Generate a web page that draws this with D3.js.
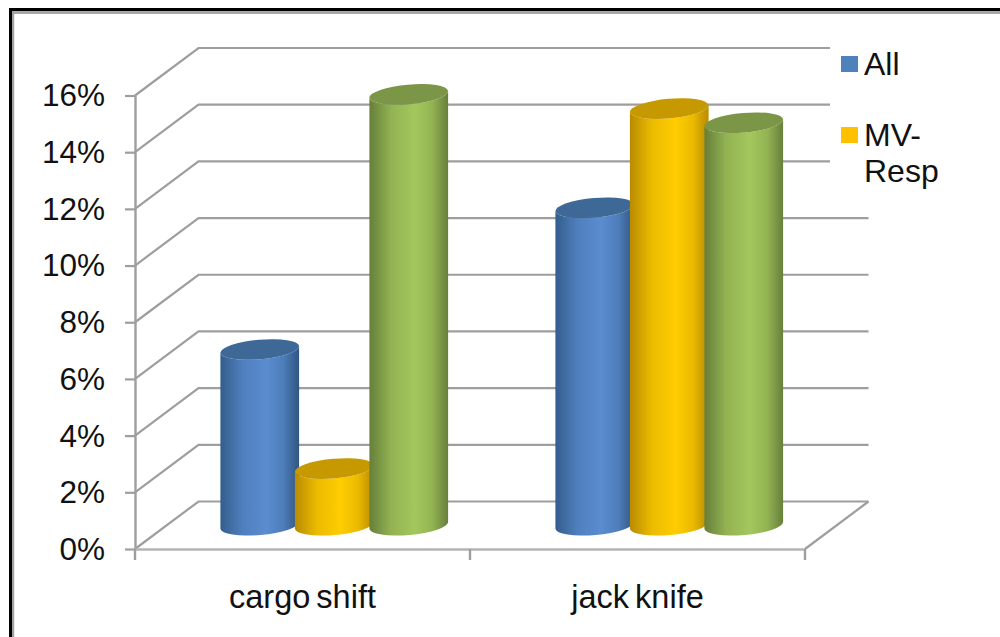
<!DOCTYPE html>
<html>
<head>
<meta charset="utf-8">
<title>Cargo shift and jack knife rates</title>
<script src="https://cdn.jsdelivr.net/npm/d3@7"></script>
<style>
  html, body { margin: 0; padding: 0; background: #fff; }
  svg { display: block; }
  text { font-family: "Liberation Sans", Arial, sans-serif; fill: #111; }
</style>
</head>
<body>
<svg id="chart" width="1000" height="637"></svg>
<script>
// Chart values
const categories = ["cargo shift", "jack knife"];
const seriesAll = [6.2, 11.2];
const seriesMvResp = [2.0, 14.7];
const seriesThird = [15.2, 14.2];
const legendLabels = [["All"], ["MV-", "Resp"]];
const yTicks = [0, 2, 4, 6, 8, 10, 12, 14, 16];

// Cylinder shading: edge, highlight, far edge, lid
const palettes = [
  { edge: "#335d8c", mid: "#5a8cd0", far: "#2f5681", lid: "#3e6896", swatch: "#4f81bd" },
  { edge: "#b98b00", mid: "#ffcd00", far: "#b88a00", lid: "#c79900", swatch: "#ffc000" },
  { edge: "#667f3a", mid: "#a4c75d", far: "#66803a", lid: "#7c9647", swatch: "#9bbb59" }
];
const seriesValues = [seriesAll, seriesMvResp, seriesThird];

const svg = d3.select("#chart");
const defs = svg.append("defs");

// Plot geometry: front plane plus the oblique offset of the back wall
const front = { left: 135, right: 805, top: 95.5, bottom: 549 };
const depth = { x: 63.5, y: 47.5 };
const legendEdge = 830;
const gridColor = "#9e9e9e";

const y = d3.scaleLinear().domain([0, 16]).range([front.bottom, front.top]);
const x = d3.scaleBand().domain(categories).range([front.left, front.right]);
const groupSpan = 223.5;
const inner = d3.scaleBand().domain(d3.range(3)).range([-groupSpan / 2, groupSpan / 2]);

// Outer frame with its grey inner shadow
const frame = svg.append("g");
frame.append("rect").attr("x", 11).attr("y", 11).attr("width", 989).attr("height", 3).attr("fill", "#a8a8a8");
frame.append("rect").attr("x", 11).attr("y", 11).attr("width", 3.2).attr("height", 626).attr("fill", "#a0a0a0");
frame.append("rect").attr("x", 9).attr("y", 8).attr("width", 991).attr("height", 3).attr("fill", "#000");
frame.append("rect").attr("x", 9).attr("y", 8).attr("width", 3).attr("height", 629).attr("fill", "#000");

// Back wall gridlines and their diagonals along the side wall
const grid = svg.append("g").attr("fill", "none").attr("stroke", gridColor).attr("stroke-width", 2.2);
grid.selectAll("path.grid").data(yTicks).join("path")
  .attr("class", "grid")
  .attr("d", t => {
    const yf = y(t), yb = yf - depth.y;
    const end = t >= 12 ? legendEdge : front.right + depth.x;
    return `M${front.left},${yf}L${front.left + depth.x},${yb}L${end},${yb}`;
  });

// Floor edge on the right
grid.append("path")
  .attr("d", `M${front.right},${y(0)}L${front.right + depth.x},${y(0) - depth.y}`);

// Value axis
const yAxis = d3.axisLeft(y)
  .tickValues(yTicks)
  .tickSize(10)
  .tickSizeOuter(0)
  .tickPadding(20)
  .tickFormat(d => d + "%");
const yG = svg.append("g").attr("transform", `translate(${front.left},0)`).call(yAxis);
yG.select(".domain").attr("stroke", gridColor).attr("stroke-width", 2.4);
yG.selectAll(".tick line").attr("stroke", gridColor).attr("stroke-width", 2.2);
yG.selectAll(".tick text")
  .attr("font-size", 31.5)
  .attr("dy", "0.33em")
  .style("font-family", '"Liberation Sans", Arial, sans-serif')
  .attr("fill", "#111");

// Category axis: labels centred on the band, ticks on the band boundaries
const xAxis = d3.axisBottom(x).tickSize(0).tickPadding(36);
const xG = svg.append("g").attr("transform", `translate(0,${front.bottom})`).call(xAxis);
xG.select(".domain").attr("stroke", "#b4b4b4").attr("stroke-width", 2.4);
xG.selectAll(".tick text")
  .attr("font-size", 32.5)
  .attr("dy", "0.71em")
  .style("font-family", '"Liberation Sans", Arial, sans-serif')
  .style("word-spacing", "-3px")
  .attr("fill", "#111");
const boundaries = [front.left, x(categories[1]), front.right];
xG.selectAll("line.boundary").data(boundaries).join("line")
  .attr("class", "boundary")
  .attr("x1", d => d).attr("x2", d => d)
  .attr("y1", 0).attr("y2", 11)
  .attr("stroke", gridColor).attr("stroke-width", 2.4);

// Horizontal shading for each cylinder side
palettes.forEach((p, i) => {
  const g = defs.append("linearGradient").attr("id", `side-${i}`)
    .attr("x1", "0%").attr("x2", "100%").attr("y1", "0%").attr("y2", "0%");
  [[0, p.edge], [0.28, d3.interpolateRgb(p.edge, p.mid)(0.72)], [0.58, p.mid], [0.8, d3.interpolateRgb(p.far, p.mid)(0.72)], [1, p.far]]
    .forEach(([o, c]) => g.append("stop").attr("offset", o).attr("stop-color", c));
});

// Cylinders sit midway through the depth of the plot, on a slightly tilted ellipse
const rx = 39.5, ry = 9.8, tilt = -5;
const tiltRad = tilt * Math.PI / 180;
const ex = rx * Math.cos(tiltRad), ey = rx * Math.sin(tiltRad);
const bars = svg.append("g");

categories.forEach((cat, c) => {
  d3.range(3).forEach(s => {
    const cx = x(cat) + x.bandwidth() / 2 + inner(s) + inner.bandwidth() / 2 + depth.x / 2;
    const base = y(0) - depth.y / 2;
    const top = y(seriesValues[s][c]) - depth.y / 2;
    const g = bars.append("g");
    g.append("path")
      .attr("fill", `url(#side-${s})`)
      .attr("d", `M${cx - ex},${top - ey}L${cx - ex},${base - ey}` +
                 `A${rx},${ry} ${tilt} 0 0 ${cx + ex},${base + ey}` +
                 `L${cx + ex},${top + ey}` +
                 `A${rx},${ry} ${tilt} 0 1 ${cx - ex},${top - ey}Z`);
    g.append("ellipse")
      .attr("rx", rx).attr("ry", ry)
      .attr("transform", `translate(${cx},${top}) rotate(${tilt})`)
      .attr("fill", palettes[s].lid);
  });
});

// Legend
const legendY = [56, 127];
const legend = svg.append("g");
legendLabels.forEach((lines, i) => {
  legend.append("rect")
    .attr("x", 841).attr("y", legendY[i]).attr("width", 17).attr("height", 16)
    .attr("fill", palettes[i].swatch);
  lines.forEach((line, j) => {
    legend.append("text")
      .attr("x", 864)
      .attr("y", legendY[i] + 19 + j * 36)
      .attr("font-size", 32)
      .text(line);
  });
});
</script>
</body>
</html>
